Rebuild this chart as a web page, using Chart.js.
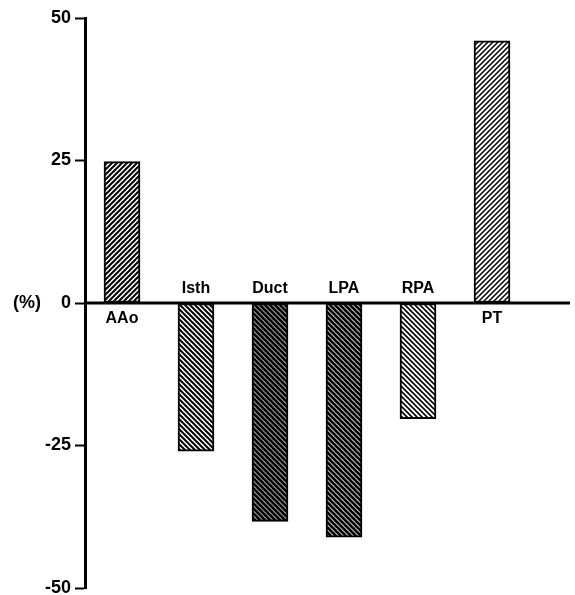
<!DOCTYPE html>
<html>
<head>
<meta charset="utf-8">
<script src="https://cdn.jsdelivr.net/npm/chart.js@4/dist/chart.umd.min.js"></script>
<style>
  html, body { margin: 0; padding: 0; background: #fff; }
  #wrap { width: 575px; height: 595px; }
</style>
</head>
<body>
<div id="wrap"><canvas id="barChart"></canvas></div>
<script>
// chart data
const categories = ['AAo', 'Isth', 'Duct', 'LPA', 'RPA', 'PT'];
const changeValues = [24.8, -26, -38.3, -41.1, -20.3, 46];
const yTicks = [-50, -25, 0, 25, 50];

// hatch fills, one per bar: direction and how dark
const hatchDir = ['/', '\\', '\\', '\\', '\\', '/'];
const hatchInk = [2.0, 2.0, 2.9, 2.7, 1.6, 1.5];

function makeHatch(dir, ink) {
    const s = 5;
    const c = document.createElement('canvas');
    c.width = s; c.height = s;
    const g = c.getContext('2d');
    g.fillStyle = '#fff';
    g.fillRect(0, 0, s, s);
    g.strokeStyle = '#000';
    g.lineWidth = ink;
    g.beginPath();
    if (dir === '/') {
        g.moveTo(-s, s); g.lineTo(s, -s);
        g.moveTo(0, s * 2); g.lineTo(s * 2, 0);
        g.moveTo(0, s); g.lineTo(s, 0);
    } else {
        g.moveTo(0, 0); g.lineTo(s, s);
        g.moveTo(-s, 0); g.lineTo(s, s * 2);
        g.moveTo(0, -s); g.lineTo(s * 2, s);
    }
    g.stroke();
    return g.createPattern(c, 'repeat');
}

const fills = categories.map((_, i) => makeHatch(hatchDir[i], hatchInk[i]));

// zero line runs past the last bar, almost to the right edge
const zeroLinePlugin = {
    id: 'zeroLine',
    beforeDatasetsDraw(chart) {
        const ctx = chart.ctx;
        const y0 = chart.scales.y.getPixelForValue(0);
        ctx.save();
        ctx.strokeStyle = '#000';
        ctx.lineWidth = 3;
        ctx.beginPath();
        ctx.moveTo(chart.chartArea.left, y0);
        ctx.lineTo(chart.width - 5, y0);
        ctx.stroke();
        ctx.restore();
    }
};

// category names sit on the side of the zero line away from the bar
const labelPlugin = {
    id: 'barNames',
    afterDatasetsDraw(chart) {
        const ctx = chart.ctx;
        const meta = chart.getDatasetMeta(0);
        const y0 = chart.scales.y.getPixelForValue(0);
        ctx.save();
        ctx.font = 'bold 16px "Liberation Sans", Arial, sans-serif';
        ctx.fillStyle = '#000';
        ctx.textAlign = 'center';
        meta.data.forEach((bar, i) => {
            if (changeValues[i] >= 0) {
                ctx.textBaseline = 'top';
                ctx.fillText(categories[i], bar.x, y0 + 8);
            } else {
                ctx.textBaseline = 'bottom';
                ctx.fillText(categories[i], bar.x, y0 - 6);
            }
        });
        ctx.restore();
    }
};

new Chart(document.getElementById('barChart'), {
    type: 'bar',
    data: {
        labels: categories,
        datasets: [{
            data: changeValues,
            backgroundColor: fills,
            borderColor: '#000',
            borderWidth: 2,
            borderSkipped: false,
            barThickness: 36
        }]
    },
    options: {
        responsive: true,
        maintainAspectRatio: false,
        animation: false,
        layout: { padding: { top: 18, right: 46, bottom: 7, left: 0 } },
        plugins: {
            legend: { display: false },
            tooltip: { enabled: false }
        },
        scales: {
            x: { display: false },
            y: {
                min: -50,
                max: 50,
                afterBuildTicks: axis => { axis.ticks = yTicks.map(v => ({ value: v })); },
                afterFit: axis => {
                    axis.width = 85;
                    axis.paddingTop = 0;
                    axis.paddingBottom = 0;
                },
                border: { color: '#000', width: 3 },
                grid: {
                    drawOnChartArea: false,
                    tickColor: '#000',
                    tickWidth: 2,
                    tickLength: 10
                },
                ticks: {
                    color: '#000',
                    padding: 4,
                    font: { family: '"Liberation Sans", Arial, sans-serif', size: 18, weight: 'bold' },
                    callback: v => v === 0 ? '(%)    0' : v
                }
            }
        }
    },
    plugins: [zeroLinePlugin, labelPlugin]
});
</script>
</body>
</html>
